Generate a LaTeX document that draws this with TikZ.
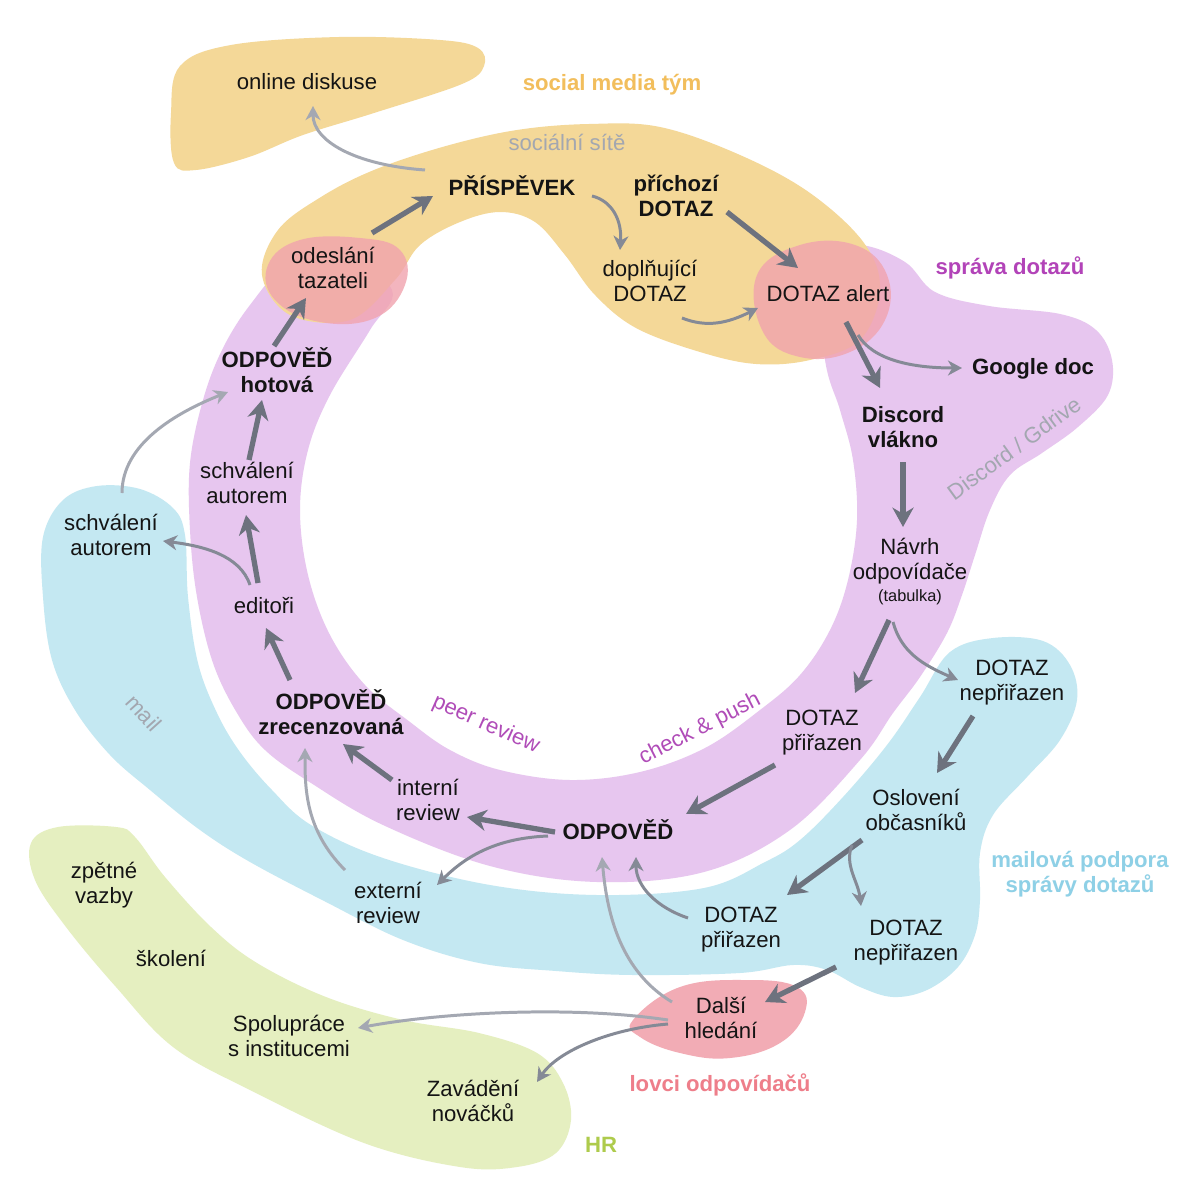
\documentclass[tikz,border=0pt]{standalone}
\usepackage{fontspec}
\setmainfont{Liberation Sans}
\usetikzlibrary{arrows.meta,calc}
\definecolor{cink}{HTML}{141414}
\definecolor{csocialfill}{HTML}{F4D898}
\definecolor{cmanagefill}{HTML}{E7C6EF}
\definecolor{cmailfill}{HTML}{C4E8F2}
\definecolor{chrfill}{HTML}{E5EFC0}
\definecolor{chuntfill}{HTML}{F1A3AE}
\definecolor{csocial}{HTML}{F2BE5C}
\definecolor{cmanage}{HTML}{B243B8}
\definecolor{cmail}{HTML}{8ED0E6}
\definecolor{chunt}{HTML}{EE7E8A}
\definecolor{chr}{HTML}{AECB4C}
\definecolor{ctag}{HTML}{A3A7B0}
\definecolor{cflow}{HTML}{B04CB8}
\definecolor{carrow}{HTML}{858A96}
\definecolor{carrowdark}{HTML}{6D727E}
\definecolor{carrowlight}{HTML}{A4A8B2}

\begin{document}
\begin{tikzpicture}[x=0.2mm,y=-0.2mm,
  every node/.style={font=\fontsize{12.6}{14.2}\selectfont,align=center,inner sep=1pt,text=cink},
  key/.style={font=\fontsize{12.6}{14.2}\selectfont\bfseries},
  team/.style={font=\fontsize{12.6}{14.2}\selectfont\bfseries},
  tag/.style={text=ctag},
  flowtag/.style={text=cflow},
  small/.style={font=\fontsize{9.3}{10}\selectfont},
  arr/.style={draw=carrow,line width=1.7pt,-{Stealth[length=8pt,width=8.5pt,inset=2.5pt]}},
  arrlight/.style={arr,draw=carrowlight},
  arrbig/.style={draw=carrowdark,line width=3pt,-{Stealth[length=11pt,width=12pt,inset=3.5pt]}}]
  \useasboundingbox (0,0) rectangle (1200,1200);
  \fill[white] (0,0) rectangle (1200,1200);

  % team areas
  \fill[chrfill] plot[smooth cycle,tension=0.6] coordinates {(31,843) (58,827) (116,827) (135,837) (165,877) (211,927) (257,963) (326,997) (403,1020) (479,1033) (537,1053) (563,1083) (571,1120) (556,1153) (517,1167) (460,1167) (364,1143) (250,1090) (173,1047) (116,987) (66,927) (35,880)};
  \fill[cmailfill] plot[smooth cycle,tension=0.6] coordinates {(63,500) (97,486) (140,489) (173,508) (185,535) (188,597) (198,663) (217,713) (240,752) (272,790) (311,825) (383,858) (490,885) (597,895) (704,888) (765,862) (800,840) (843,797) (887,745) (920,697) (950,652) (993,638) (1043,641) (1070,665) (1077,700) (1060,740) (1027,777) (993,815) (980,853) (980,900) (975,935) (958,967) (927,990) (893,997) (860,987) (827,970) (793,965) (740,973) (633,975) (556,971) (479,963) (403,940) (326,902) (250,862) (200,830) (150,790) (110,755) (75,710) (52,660) (43,597) (43,537)};
  \fill[cmanagefill] plot[smooth cycle,tension=0.6] coordinates {(290,262) (250,305) (222,350) (203,400) (190,463) (190,530) (197,597) (213,663) (237,713) (265,750) (311,783) (383,825) (490,866) (597,882) (704,872) (790,830) (860,760) (893,713) (920,677) (947,633) (962,595) (975,555) (990,510) (1010,475) (1042,453) (1078,427) (1108,395) (1112,360) (1096,330) (1060,314) (989,306) (935,292) (905,262) (860,245) (815,255) (825,360) (840,410) (853,460) (857,520) (848,580) (830,630) (800,675) (760,710) (705,748) (640,772) (570,780) (500,770) (450,750) (410,722) (365,685) (330,635) (308,575) (300,510) (308,450) (330,395) (370,330) (392,290) (340,255)};
  \fill[csocialfill] plot[smooth cycle,tension=0.6] coordinates {(262,275) (278,230) (321,197) (374,170) (446,146) (517,130) (589,124) (660,127) (740,155) (810,193) (864,243) (880,290) (860,340) (810,360) (756,364) (700,352) (636,328) (595,295) (565,255) (535,222) (500,212) (460,222) (420,245) (395,280) (350,320) (290,315)};
  \fill[csocialfill] plot[smooth cycle,tension=0.6] coordinates {(180,66) (231,45) (339,37) (440,40) (478,48) (484,66) (462,84) (374,113) (303,135) (249,157) (196,170) (174,163) (171,113)};
  \fill[chuntfill,opacity=0.8] plot[smooth cycle,tension=0.7] coordinates {(268,265) (300,240) (360,238) (400,250) (405,285) (375,318) (320,322) (275,300)};
  \fill[chuntfill,opacity=0.8] plot[smooth cycle,tension=0.7] coordinates {(757,275) (800,245) (855,245) (887,275) (885,320) (850,352) (800,357) (763,332)};
  \fill[chuntfill,opacity=0.9] plot[smooth cycle,tension=0.7] coordinates {(633,1020) (680,987) (747,980) (797,987) (805,1012) (780,1043) (730,1058) (680,1053) (640,1037)};

  % team names and channels
  \node[team,text=csocial] (teamsocial) at (612,85) {social media tým};
  \node[team,text=cmanage] (teammanage) at (1010,268) {správa dotazů};
  \node[team,text=cmail] (teammail) at (1080,874) {mailová podpora\\správy dotazů};
  \node[team,text=chunt] (teamhunt) at (720,1085) {lovci odpovídačů};
  \node[team,text=chr] (teamhr) at (601,1145) {HR};
  \node[tag] (tagsocial) at (567,142) {sociální sítě};
  \node[tag,rotate=36] (tagdiscord) at (1014,448) {Discord / Gdrive};
  \node[tag,rotate=-48] (tagmail) at (144,713) {mail};
  \node[flowtag,rotate=-24] (tagpeer) at (486,725) {peer review};
  \node[flowtag,rotate=27] (tagcheck) at (700,729) {check \& push};

  % steps
  \node (online) at (307,82) {online diskuse};
  \node[key] (prisp) at (512,186) {PŘÍSPĚVEK};
  \node[key] (prich) at (676,196) {příchozí\\DOTAZ};
  \node (dopl) at (650,281) {doplňující\\DOTAZ};
  \node (odesl) at (333,268) {odeslání\\tazateli};
  \node (alert) at (828,294) {DOTAZ alert};
  \node[key] (gdoc) at (1033,369) {Google doc};
  \node[key] (discord) at (903,427) {Discord\\vlákno};
  \node (navrh) at (910,561) {Návrh\\odpovídače};
  \node[small] (navrhtab) at (910,597) {(tabulka)};
  \node[key] (hotova) at (277,370) {ODPOVĚĎ\\hotová};
  \node (schvP) at (247,483) {schválení\\autorem};
  \node (schvM) at (111,535) {schválení\\autorem};
  \node (editori) at (264,606) {editoři};
  \node[key] (zrec) at (331,712) {ODPOVĚĎ\\zrecenzovaná};
  \node (nepriP) at (1012,683) {DOTAZ\\nepřiřazen};
  \node (priP) at (822,733) {DOTAZ\\přiřazen};
  \node (osloveni) at (916,810) {Oslovení\\občasníků};
  \node (interni) at (428,800) {interní\\review};
  \node[key] (odpoved) at (618,830) {ODPOVĚĎ};
  \node (externi) at (388,903) {externí\\review};
  \node (priM) at (741,930) {DOTAZ\\přiřazen};
  \node (nepriM) at (906,943) {DOTAZ\\nepřiřazen};
  \node (dalsi) at (721,1018) {Další\\hledání};
  \node (zpetne) at (104,885) {zpětné\\vazby};
  \node (skoleni) at (171,958) {školení};
  \node (spoluprace) at (289,1036) {Spolupráce\\s institucemi};
  \node (zavadeni) at (473,1101) {Zavádění\\nováčků};

  % flow
  \draw[arrlight] ($(prisp)+(-87,-16)$) .. controls +(-70,-5) and +(0,35) .. ($(online)+(6,24)$);
  \draw[arrbig] ($(odesl)+(39,-35)$) -- ($(prisp)+(-79,10)$);
  \draw[arr] ($(prisp)+(80,10)$) .. controls +(20,5) and +(2,-30) .. ($(dopl)+(-30,-31)$);
  \draw[arrbig] ($(prich)+(51,16)$) -- ($(alert)+(-30,-26)$);
  \draw[arr] ($(dopl)+(32,37)$) .. controls +(25,10) and +(-30,15) .. ($(alert)+(-70,14)$);
  \draw[arrbig] ($(alert)+(18,28)$) -- ($(discord)+(-23,-39)$);
  \draw[arr] ($(alert)+(30,41)$) .. controls +(15,25) and +(-50,0) .. ($(gdoc)+(-71,-1)$);
  \draw[arrbig] ($(discord)+(0,35)$) -- ($(navrh)+(-7,-34)$);
  \draw[arrbig] ($(navrhtab)+(-21,23)$) -- ($(priP)+(33,-40)$);
  \draw[arr] ($(navrhtab)+(-17,25)$) .. controls +(8,30) and +(-35,-15) .. ($(nepriP)+(-54,-3)$);
  \draw[arrbig] ($(nepriP)+(-39,33)$) -- ($(osloveni)+(21,-37)$);
  \draw[arrbig] ($(priP)+(-47,32)$) -- ($(odpoved)+(68,-16)$);
  \draw[arrbig] ($(odpoved)+(-63,2)$) -- ($(interni)+(39,17)$);
  \draw[arr] ($(odpoved)+(-70,6)$) .. controls +(-50,2) and +(30,-30) .. ($(externi)+(49,-18)$);
  \draw[arrbig] ($(interni)+(-36,-20)$) -- ($(zrec)+(12,32)$);
  \draw[arrlight] ($(externi)+(-43,-33)$) .. controls +(-40,-40) and +(0,40) .. ($(zrec)+(-26,36)$);
  \draw[arrbig] ($(zrec)+(-41,-32)$) -- ($(editori)+(2,22)$);
  \draw[arrbig] ($(editori)+(-6,-23)$) -- ($(schvP)+(-1,32)$);
  \draw[arr] ($(editori)+(-14,-21)$) .. controls +(-10,-30) and +(40,5) .. ($(schvM)+(52,6)$);
  \draw[arrbig] ($(schvP)+(2,-23)$) -- ($(hotova)+(-15,30)$);
  \draw[arrlight] ($(schvM)+(11,-42)$) .. controls +(0,-50) and +(-50,20) .. ($(hotova)+(-49,22)$);
  \draw[arrbig] ($(hotova)+(-3,-24)$) -- ($(odesl)+(-27,30)$);
  \draw[arrbig] ($(osloveni)+(-54,30)$) -- ($(priM)+(46,-35)$);
  \draw[arr] ($(osloveni)+(-64,35)$) .. controls +(-8,20) and +(-3,-25) .. ($(nepriM)+(-45,-37)$);
  \draw[arrbig] ($(nepriM)+(-70,24)$) -- ($(dalsi)+(44,-16)$);
  \draw[arr] ($(priM)+(-53,-12)$) .. controls +(-30,-10) and +(0,30) .. ($(odpoved)+(18,27)$);
  \draw[arrlight] ($(dalsi)+(-49,-16)$) .. controls +(-50,-30) and +(5,60) .. ($(odpoved)+(-16,27)$);
  \draw[arrlight] ($(dalsi)+(-53,2)$) .. controls +(-100,-15) and +(80,-15) .. ($(spoluprace)+(69,-8)$);
  \draw[arr] ($(dalsi)+(-53,6)$) .. controls +(-60,5) and +(20,-30) .. ($(zavadeni)+(64,-19)$);
\end{tikzpicture}
\end{document}
